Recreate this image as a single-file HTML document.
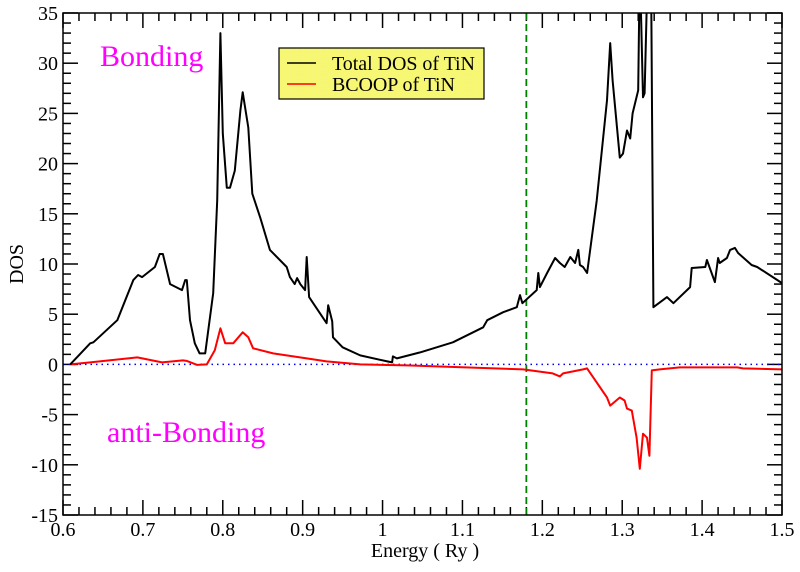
<!DOCTYPE html>
<html><head><meta charset="utf-8"><style>
body{margin:0;background:#fff}
svg text{font-family:"Liberation Serif",serif}
</style></head><body>
<svg id="chart" width="800" height="567" viewBox="0 0 800 567">
<defs>
<clipPath id="clip"><rect x="63" y="13" width="719" height="502"/></clipPath>
<pattern id="brick" width="6" height="4" patternUnits="userSpaceOnUse">
<rect width="6" height="4" fill="#ffff30"/>
<path d="M0 0.5H6M3 0.5V2.5M0 2.5H6M0 2.5V4.5" stroke="#f0f0b0" stroke-width="0.5" fill="none"/>
</pattern>
</defs>
<g id="ticks"></g>
<g id="marks" clip-path="url(#clip)"></g>
<rect x="63" y="13" width="719" height="502" fill="none" stroke="#000" stroke-width="1.5"/>
<text x="100" y="66" font-size="30" fill="#ff00ff">Bonding</text>
<text x="107" y="442" font-size="30" fill="#ff00ff">anti-Bonding</text>
<text x="425" y="557" font-size="20" text-anchor="middle">Energy ( Ry )</text>
<text x="0" y="0" font-size="20" text-anchor="middle" transform="translate(23,264) rotate(-90)">DOS</text>
<g>
<rect x="279" y="48" width="205" height="51" fill="url(#brick)" stroke="#000" stroke-width="1.2"/>
<line x1="287" y1="63" x2="316" y2="63" stroke="#000" stroke-width="1.5"/>
<text x="332" y="70" font-size="20" textLength="143">Total DOS of TiN</text>
<line x1="287" y1="84" x2="316" y2="84" stroke="#f00" stroke-width="1.5"/>
<text x="332" y="91" font-size="20" textLength="123">BCOOP of TiN</text>
</g>
</svg>
<script>
const xTicks=[0.6,0.7,0.8,0.9,1,1.1,1.2,1.3,1.4,1.5];
const xTickLabels=["0.6","0.7","0.8","0.9","1","1.1","1.2","1.3","1.4","1.5"];
const yTicks=[-15,-10,-5,0,5,10,15,20,25,30,35];
const yTickLabels=["-15","-10","-5","0","5","10","15","20","25","30","35"];
const fermiEnergy=[1.18];
const dosE=[0.609,0.634,0.638,0.668,0.688,0.694,0.699,0.715,0.721,0.725,0.734,0.749,0.753,0.755,0.759,0.765,0.771,0.778,0.788,0.793,0.797,0.800,0.805,0.809,0.815,0.822,0.825,0.832,0.837,0.847,0.859,0.880,0.884,0.890,0.893,0.897,0.903,0.905,0.908,0.930,0.932,0.937,0.938,0.950,0.972,1.006,1.012,1.013,1.018,1.047,1.088,1.126,1.131,1.151,1.168,1.172,1.175,1.193,1.195,1.197,1.206,1.216,1.222,1.228,1.235,1.241,1.245,1.247,1.251,1.256,1.268,1.281,1.285,1.288,1.297,1.301,1.306,1.310,1.313,1.320,1.322,1.326,1.328,1.332,1.336,1.339,1.356,1.364,1.385,1.387,1.404,1.406,1.416,1.420,1.422,1.431,1.435,1.441,1.445,1.462,1.469,1.500];
const dosV=[0,2.1,2.2,4.4,8.4,8.9,8.7,9.7,11.0,11.0,8.0,7.4,8.4,8.4,4.4,2.1,1.1,1.1,7.1,16.3,33,23,17.6,17.6,19.3,25.3,27.1,23.6,17,14.6,11.4,9.7,8.7,8.0,8.6,8.0,7.4,10.7,6.7,4.1,5.9,4.3,2.7,1.7,0.9,0.3,0.2,0.8,0.6,1.2,2.2,3.7,4.4,5.2,5.7,6.9,6.1,7.4,9.1,7.7,9.1,10.6,10.1,9.7,10.7,10.1,11.4,9.9,9.7,9.1,16.3,26.3,32,28.3,20.6,21,23.3,22.5,25,27.3,40,26.6,27,40,40,5.7,6.7,6.1,7.7,9.6,9.7,10.4,8.2,10.6,10.1,10.6,11.4,11.6,11.1,9.9,9.7,8.1];
const coopE=[0.609,0.634,0.693,0.724,0.750,0.755,0.768,0.780,0.790,0.797,0.803,0.813,0.825,0.832,0.838,0.863,0.905,0.930,0.972,1.031,1.176,1.213,1.222,1.226,1.251,1.256,1.281,1.285,1.297,1.303,1.306,1.312,1.318,1.322,1.326,1.331,1.334,1.337,1.347,1.372,1.444,1.451,1.500];
const coopV=[0,0.2,0.7,0.2,0.4,0.35,-0.05,0,1.4,3.6,2.1,2.1,3.2,2.7,1.6,1.1,0.6,0.3,0,-0.1,-0.5,-0.9,-1.2,-0.9,-0.5,-0.4,-3.3,-4.1,-3.3,-3.6,-4.4,-4.6,-7.3,-10.4,-6.9,-7.3,-9.1,-0.6,-0.5,-0.3,-0.3,-0.4,-0.5];
const NS='http://www.w3.org/2000/svg';
const L=63,R=782,T=13,B=515;
function sx(e){return L+(e-0.6)/0.9*(R-L);}
function sy(v){return T+(35-v)/50*(B-T);}
function mk(t,a,p){const el=document.createElementNS(NS,t);for(const k in a)el.setAttribute(k,a[k]);p.appendChild(el);return el;}
const tg=document.getElementById('ticks'),mg=document.getElementById('marks');
for(let i=0;i<=45;i++){const e=0.6+i*0.02,x=sx(e),len=(i%5===0)?15:8;
 let a=mk('line',{x1:x,y1:B,x2:x,y2:B-len,stroke:'#000','stroke-width':1.5},tg);
 
 
 let b=mk('line',{x1:x,y1:T,x2:x,y2:T+len,stroke:'#000','stroke-width':1.5},tg);
 
 }
for(let v=-15;v<=35;v++){const y=sy(v),len=(v%5===0)?15:8;
 let a=mk('line',{x1:L,y1:y,x2:L+len,y2:y,stroke:'#000','stroke-width':1.5},tg);
 
 
 let b=mk('line',{x1:R,y1:y,x2:R-len,y2:y,stroke:'#000','stroke-width':1.5},tg);
 
 }
xTicks.forEach((e,i)=>{const t=mk('text',{x:sx(e),y:B+21,'font-size':20,'text-anchor':'middle'},tg);t.textContent=xTickLabels[i];
 
 });
yTicks.forEach((v,i)=>{const t=mk('text',{x:L-5,y:sy(v)+7,'font-size':20,'text-anchor':'end'},tg);t.textContent=yTickLabels[i];
 
 });
let z=mk('line',{x1:L,y1:sy(0),x2:R,y2:sy(0),stroke:'#00f','stroke-width':1.5,'stroke-dasharray':'1.5,4'},mg);


fermiEnergy.forEach(e=>{let f=mk('line',{x1:sx(e),y1:T,x2:sx(e),y2:B,stroke:'#008000','stroke-width':1.8,'stroke-dasharray':'7,4'},mg);
 
 });
function path(E,V){return E.map((e,i)=>(i?'L':'M')+sx(e).toFixed(1)+' '+sy(V[i]).toFixed(1)).join(' ');}
let c=mk('path',{d:path(coopE,coopV),fill:'none',stroke:'#f00','stroke-width':2,'stroke-linejoin':'round'},mg);


let d=mk('path',{d:path(dosE,dosV),fill:'none',stroke:'#000','stroke-width':2,'stroke-linejoin':'round'},mg);


</script>
</body></html>
